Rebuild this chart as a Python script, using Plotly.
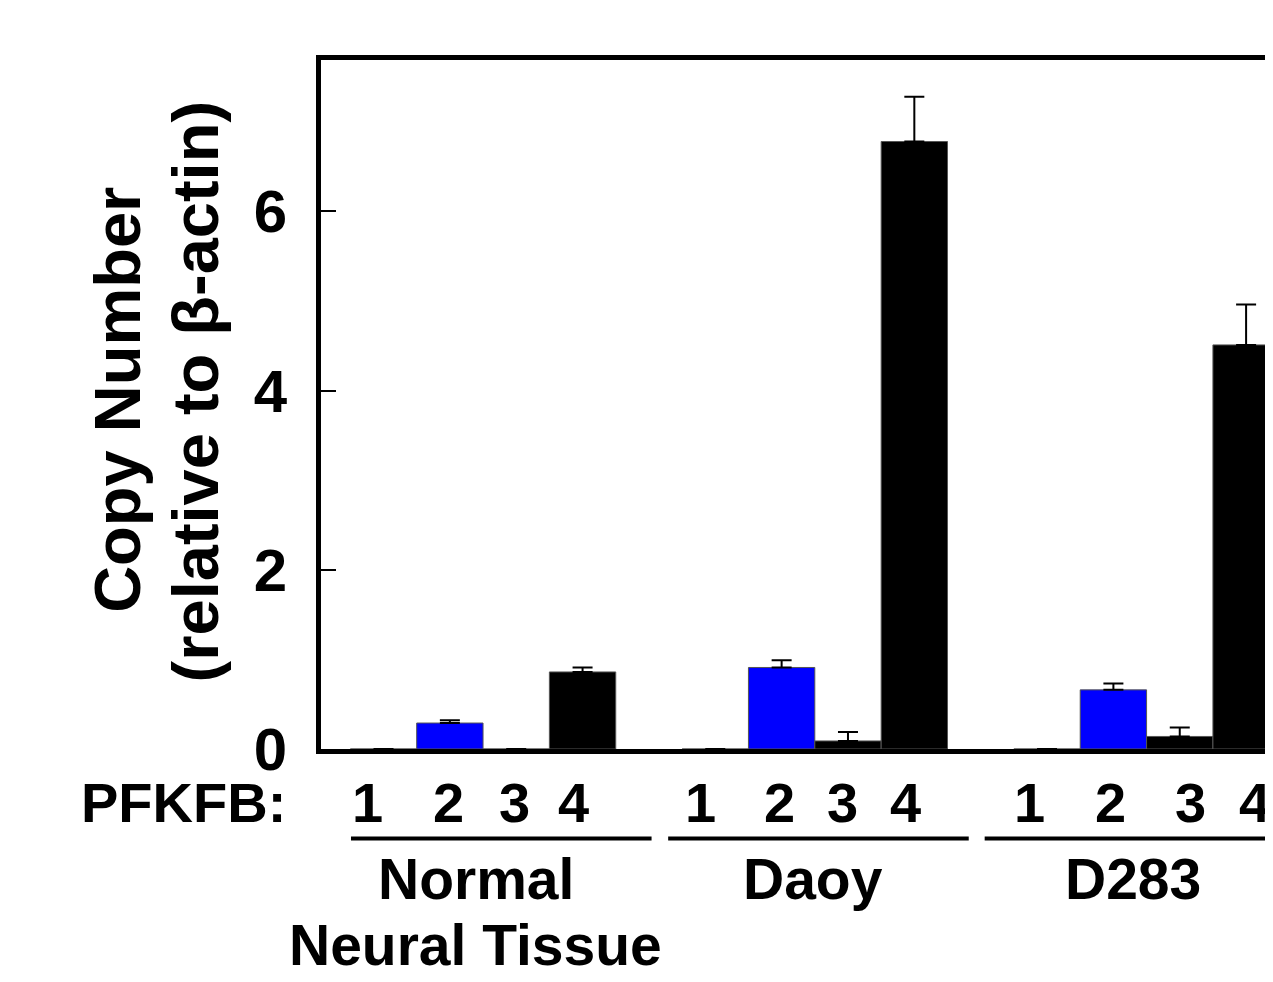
import plotly.graph_objects as go

# ---- data ----
groups = ["Normal", "Daoy", "D283"]
isoforms = ["1", "2", "3", "4"]
pfkfb1 = [0.0, 0.0, 0.0]
pfkfb1_err = [0.0, 0.0, 0.0]
pfkfb2 = [0.29, 0.91, 0.66]
pfkfb2_err = [0.03, 0.08, 0.07]
pfkfb3 = [0.0, 0.09, 0.14]
pfkfb3_err = [0.0, 0.10, 0.10]
pfkfb4 = [0.86, 6.78, 4.51]
pfkfb4_err = [0.05, 0.50, 0.45]
y_ticks = [0, 2, 4, 6]

series = [pfkfb1, pfkfb2, pfkfb3, pfkfb4]
errors = [pfkfb1_err, pfkfb2_err, pfkfb3_err, pfkfb4_err]
colors = ["#0000FF", "#0000FF", "#000000", "#000000"]

FONT = "Liberation Sans, Arial, sans-serif"

fig = go.Figure()
for i, (vals, err) in enumerate(zip(series, errors)):
    xs = [g * 5 + i + 1 for g in range(len(groups))]
    fig.add_trace(go.Bar(
        x=xs, y=vals, width=1,
        marker=dict(color=colors[i], line=dict(color="#555555", width=1)),
        error_y=dict(type="data", symmetric=False, array=err,
                     arrayminus=[0] * len(err), color="black",
                     thickness=2, width=10),
        showlegend=False,
    ))

# layout geometry (page has an 8px body margin)
OFF = 8
W, H = 1273 - OFF, 982 - OFF
PLOT_LEFT, PLOT_TOP, PLOT_BOTTOM = 321, 60, 749.5   # page pixels
L = PLOT_LEFT - OFF
T = PLOT_TOP - OFF
B = H - (PLOT_BOTTOM - OFF)
plot_h = H - T - B
plot_w = W - L


def py(px):  # page pixel y -> paper y
    return (PLOT_BOTTOM - px) / plot_h


def px_x(px):  # page pixel x -> paper x
    return (px - PLOT_LEFT) / plot_w


annotations = []
# isoform digit labels under bars
digit_pos = [0.76, 1.98, 2.97, 3.87, 5.77, 6.97, 7.91, 8.86, 10.73, 11.95, 13.16, 14.12]
for k, xp in enumerate(digit_pos):
    annotations.append(dict(x=xp, xref="x", y=py(803), yref="paper",
                            text=isoforms[k % 4], showarrow=False,
                            xanchor="center", yanchor="middle",
                            font=dict(family=FONT, size=56, color="black", weight="bold")))
annotations.append(dict(x=px_x(288), xref="paper", y=py(803), yref="paper",
                        text="PFKFB:", showarrow=False, xanchor="right", yanchor="middle",
                        font=dict(family=FONT, size=56, color="black", weight="bold")))
# group labels
group_text = [("Normal", 2.40, 880), ("Neural Tissue", 2.38, 946), ("Daoy", 7.48, 880), ("D283", 12.30, 880)]
for txt, xp, ypx in group_text:
    annotations.append(dict(x=xp, xref="x", y=py(ypx), yref="paper",
                            text=txt, showarrow=False, xanchor="center", yanchor="middle",
                            font=dict(family=FONT, size=57, color="black", weight="bold")))
# y title (two lines)
annotations.append(dict(x=px_x(117), xref="paper", y=py(400), yref="paper",
                        text="Copy Number", textangle=-90, showarrow=False,
                        xanchor="center", yanchor="middle",
                        font=dict(family=FONT, size=65, color="black", weight="bold")))
annotations.append(dict(x=px_x(195), xref="paper", y=py(392), yref="paper",
                        text="(relative to β-actin)", textangle=-90, showarrow=False,
                        xanchor="center", yanchor="middle",
                        font=dict(family=FONT, size=65, color="black", weight="bold")))

# group underlines
shapes = []
for x0, x1 in [(0.51, 5.04), (5.29, 9.82), (10.06, 16.0)]:
    shapes.append(dict(type="line", xref="x", yref="paper", x0=x0, x1=x1,
                       y0=py(839), y1=py(839), line=dict(color="black", width=4)))

fig.update_layout(
    width=W, height=H,
    margin=dict(l=L, r=0, t=T, b=B, pad=0),
    paper_bgcolor="white", plot_bgcolor="white",
    barmode="overlay",
    annotations=annotations,
    shapes=shapes,
    xaxis=dict(range=[0.058, 14.33], showgrid=False, zeroline=False,
               showline=True, linecolor="black", linewidth=5, mirror=True,
               showticklabels=False, ticks=""),
    yaxis=dict(range=[0, 7.69], showgrid=False, zeroline=False,
               showline=True, linecolor="black", linewidth=5, mirror=True,
               ticks="inside", ticklen=15, tickwidth=1.5, tickcolor="black",
               tickvals=y_ticks, ticktext=[str(v) for v in y_ticks],
               ticklabelstandoff=17,
               tickfont=dict(family=FONT, size=60, color="black", weight="bold")),
)

fig.write_html("out.html")
